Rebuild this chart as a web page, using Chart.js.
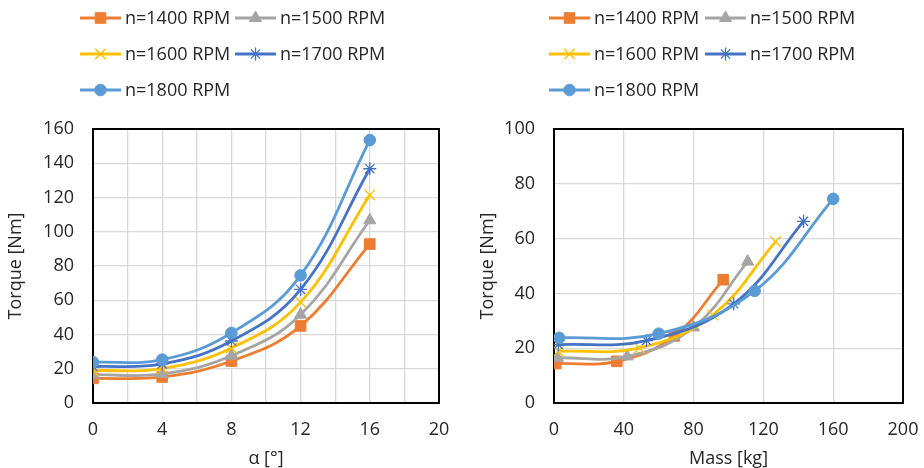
<!DOCTYPE html>
<html>
<head>
<meta charset="utf-8">
<script src="https://cdn.jsdelivr.net/npm/chart.js@4.4.0/dist/chart.umd.min.js"></script>
<style>
  html, body { margin: 0; padding: 0; background: #fff; }
  #wrap { position: relative; width: 924px; height: 468px; }
  .box { position: absolute; top: 0; width: 462px; height: 468px; }
</style>
</head>
<body>
<div id="wrap">
  <div class="box" style="left:0"><canvas id="angleChart" width="462" height="468"></canvas></div>
  <div class="box" style="left:462px"><canvas id="massChart" width="462" height="468"></canvas></div>
</div>
<script>
// 데이터
const seriesNames = ['n=1400 RPM', 'n=1500 RPM', 'n=1600 RPM', 'n=1700 RPM', 'n=1800 RPM'];
const alphaDeg = [0, 4, 8, 12, 16];
const torque1400 = [14.4, 15.2, 24.5, 45.0, 92.8];
const torque1500 = [16.5, 17.0, 27.6, 51.6, 106.7];
const torque1600 = [18.9, 20.1, 32.1, 58.9, 121.5];
const torque1700 = [21.3, 22.8, 36.2, 66.3, 136.8];
const torque1800 = [23.8, 25.3, 40.9, 74.5, 153.5];
// 질량 (오른쪽 그래프, 16° 점은 범위 밖)
const mass1400 = [1, 36, 69, 97];
const mass1500 = [2, 42, 80, 111];
const mass1600 = [2.5, 49, 91, 127];
const mass1700 = [2.5, 53, 103, 143];
const mass1800 = [3, 60, 115, 160];

const torques = [torque1400, torque1500, torque1600, torque1700, torque1800];
const masses = [mass1400, mass1500, mass1600, mass1700, mass1800];

const colors = ['#ED7D31', '#A5A5A5', '#FFC000', '#4472C4', '#5B9BD5'];
const markers = [
    { pointStyle: 'rect', radius: 7.5, borderWidth: 1 },
    { pointStyle: 'triangle', radius: 7, borderWidth: 1 },
    { pointStyle: 'crossRot', radius: 7.5, borderWidth: 1.3 },
    { pointStyle: 'star', radius: 6.5, borderWidth: 1.3 },
    { pointStyle: 'circle', radius: 5.8, borderWidth: 1 }
];

const FONT = "'Open Sans', 'DejaVu Sans', sans-serif";
const TEXT = '#262626';

// 범례 (엑셀처럼 2열 3행)
function legendPlugin(cols, rows) {
    return {
        id: 'gridLegend',
        afterDraw(chart) {
            const ctx = chart.ctx;
            ctx.save();
            seriesNames.forEach((name, i) => {
                const x = cols[i % 2];
                const y = rows[Math.floor(i / 2)];
                ctx.strokeStyle = colors[i];
                ctx.lineWidth = 3;
                ctx.beginPath();
                ctx.moveTo(x, y);
                ctx.lineTo(x + 41, y);
                ctx.stroke();
                ctx.fillStyle = colors[i];
                ctx.strokeStyle = colors[i];
                ctx.lineWidth = markers[i].borderWidth;
                Chart.helpers.drawPoint(ctx, {
                    pointStyle: markers[i].pointStyle,
                    radius: markers[i].radius,
                    rotation: 0,
                    borderWidth: markers[i].borderWidth
                }, x + 20.5, y);
                ctx.fillStyle = TEXT;
                ctx.font = '18px ' + FONT;
                ctx.textBaseline = 'middle';
                ctx.textAlign = 'left';
                ctx.fillText(name, x + 45, y + 1);
            });
            ctx.restore();
        }
    };
}

// 플롯 영역 테두리
const frame = {
    id: 'frame',
    beforeDatasetsDraw(chart) {
        const a = chart.chartArea;
        const ctx = chart.ctx;
        ctx.save();
        ctx.strokeStyle = '#000';
        ctx.lineWidth = 2;
        ctx.strokeRect(a.left, a.top, a.right - a.left, a.bottom - a.top);
        ctx.restore();
    }
};

function noPad(s) {
    s.paddingLeft = 0;
    s.paddingRight = 0;
    s.paddingTop = 0;
    s.paddingBottom = 0;
}

function makeDatasets(xs) {
    return torques.map((t, i) => ({
        label: seriesNames[i],
        data: xs[i].map((x, k) => ({ x: x, y: t[k] })),
        borderColor: colors[i],
        backgroundColor: colors[i],
        borderWidth: 2.8,
        tension: 0.4,
        pointStyle: markers[i].pointStyle,
        pointRadius: markers[i].radius,
        pointBorderWidth: markers[i].borderWidth,
        pointBorderColor: colors[i],
        pointBackgroundColor: colors[i],
        order: 4 - i
    }));
}

function makeOptions(cfg) {
    return {
        responsive: false,
        animation: false,
        events: [],
        layout: { padding: { left: 0, right: cfg.padRight, top: 129, bottom: 0 } },
        plugins: { legend: { display: false }, tooltip: { enabled: false } },
        scales: {
            x: {
                type: 'linear',
                min: cfg.xMin, max: cfg.xMax,
                afterFit(s) { s.height = 65; noPad(s); },
                ticks: {
                    stepSize: cfg.xGrid,
                    color: TEXT,
                    font: { family: FONT, size: 18 },
                    padding: 16,
                    maxRotation: 0,
                    autoSkip: false,
                    callback: v => (v % cfg.xLabel === 0 ? String(v) : '')
                },
                grid: { color: '#d9d9d9', lineWidth: 1.3, drawTicks: false },
                border: { display: false },
                title: {
                    display: true, text: cfg.xTitle, color: TEXT,
                    font: { family: FONT, size: 18 },
                    padding: { top: 0, bottom: -2 }
                }
            },
            y: {
                min: cfg.yMin, max: cfg.yMax,
                afterFit(s) { s.width = cfg.yWidth; noPad(s); },
                ticks: {
                    stepSize: 20,
                    color: TEXT,
                    font: { family: FONT, size: 18 },
                    padding: 19
                },
                grid: { color: '#d9d9d9', lineWidth: 1.3, drawTicks: false },
                border: { display: false },
                title: {
                    display: true, text: 'Torque [Nm]', color: TEXT,
                    font: { family: FONT, size: 18 },
                    padding: { top: cfg.yTitlePad, bottom: 0 }
                }
            }
        }
    };
}

new Chart(document.getElementById('angleChart').getContext('2d'), {
    type: 'line',
    data: { datasets: makeDatasets(torques.map(() => alphaDeg)) },
    options: makeOptions({
        xMin: 0, xMax: 20, xGrid: 2, xLabel: 4, xTitle: 'α [°]',
        yMin: 0, yMax: 160, yWidth: 93, yTitlePad: 5, padRight: 23
    }),
    plugins: [frame, legendPlugin([80, 235], [18, 54, 90])]
});

new Chart(document.getElementById('massChart').getContext('2d'), {
    type: 'line',
    data: { datasets: makeDatasets(masses) },
    options: makeOptions({
        xMin: 0, xMax: 200, xGrid: 40, xLabel: 40, xTitle: 'Mass [kg]',
        yMin: 0, yMax: 100, yWidth: 92, yTitlePad: 15, padRight: 21
    }),
    plugins: [frame, legendPlugin([87, 243], [18, 54, 90])]
});
</script>
</body>
</html>
